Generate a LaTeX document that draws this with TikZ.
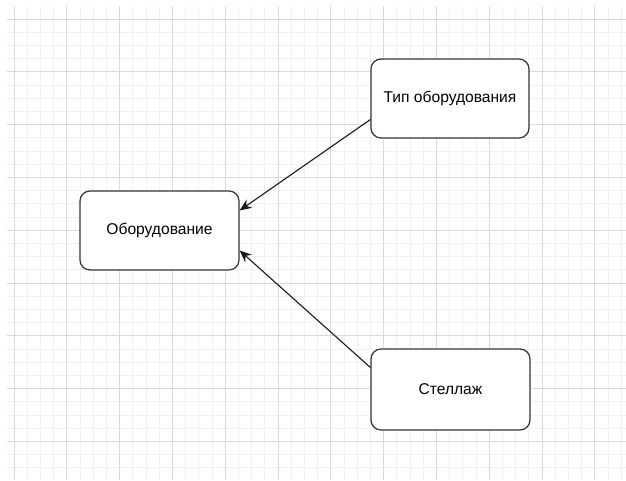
\documentclass[tikz,border=0pt]{standalone}
\usepackage{fontspec}
\setmainfont{Liberation Sans}
\usetikzlibrary{arrows.meta}
\begin{document}
\begin{tikzpicture}[x=1pt,y=-1pt,
  box/.style={draw=black!80, line width=1.2pt, rounded corners=10pt, fill=white, inner sep=0pt, font=\fontsize{15.6}{18}\selectfont},
  link/.style={draw=black!90, line width=1.1pt, -{Stealth[length=12pt,width=10pt,inset=4pt]}}]
\useasboundingbox (0,0) rectangle (626,480);
\fill[white] (0,0) rectangle (626,480);
% minor grid
\foreach \i in {0,...,47} {
  \pgfmathsetmacro\xx{0.8+13.2*\i}
  \ifdim\xx pt>7pt \draw[black!5, line width=0.8pt] (\xx,6) -- (\xx,480); \fi
}
\foreach \i in {0,...,36} {
  \pgfmathsetmacro\yy{5.8+13.2*\i}
  \ifdim\yy pt>6pt \draw[black!5, line width=0.8pt] (7,\yy) -- (626,\yy); \fi
}
% major grid
\foreach \i in {0,...,11} {
  \pgfmathsetmacro\xx{14+52.8*\i}
  \draw[black!14, line width=0.8pt] (\xx,6) -- (\xx,480);
}
\foreach \i in {0,...,8} {
  \pgfmathsetmacro\yy{19+52.8*\i}
  \draw[black!14, line width=0.8pt] (7,\yy) -- (626,\yy);
}
\node[box, minimum width=159pt, minimum height=79pt] (eq) at (159.5,230.5) {Оборудование};
\node[box, minimum width=158pt, minimum height=79pt] (type) at (450,98.5) {Тип оборудования};
\node[box, minimum width=159pt, minimum height=81pt] (rack) at (450.5,389.5) {Стеллаж};
\coordinate (t1) at ([yshift=-21pt]type.west);
\coordinate (r1) at ([yshift=22pt]rack.west);
\draw[link] (t1) -- ([yshift=20pt]eq.east);
\draw[link] (r1) -- ([yshift=-20pt]eq.east);
\end{tikzpicture}
\end{document}
